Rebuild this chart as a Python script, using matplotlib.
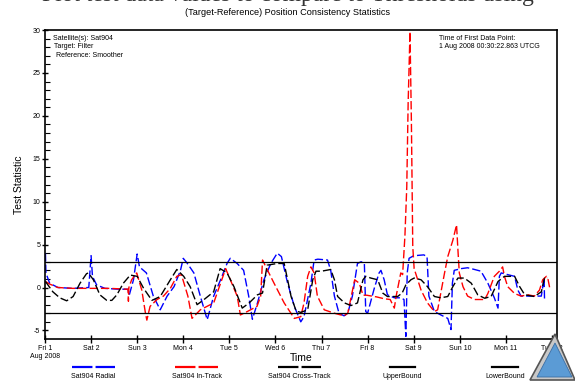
import matplotlib
matplotlib.use("Agg")
import matplotlib.pyplot as plt
from matplotlib.lines import Line2D
from matplotlib.patches import Polygon

plt.rcParams['font.family'] = ['Liberation Sans', 'DejaVu Sans']
plt.rcParams['axes.unicode_minus'] = False

# days since 1 Aug 2008 00:00 UTCG
radial_t = [0.01, 0.02, 0.1, 0.28, 0.6, 0.95, 1.0, 1.03, 1.12, 1.3, 1.6, 1.8, 1.83, 1.92,
            2.0, 2.05, 2.2, 2.35, 2.5, 2.65, 2.8, 2.94, 3.0, 3.09, 3.23, 3.37, 3.52, 3.66,
            3.81, 3.95, 4.02, 4.17, 4.31, 4.42, 4.5, 4.61, 4.75, 4.9, 5.04, 5.13, 5.26,
            5.41, 5.55, 5.62, 5.77, 5.84, 5.92, 6.13, 6.2, 6.28, 6.38, 6.49, 6.57, 6.67,
            6.78, 6.86, 6.93, 6.96, 7.0, 7.15, 7.25, 7.29, 7.36, 7.43, 7.58, 7.72, 7.79,
            7.83, 7.86, 7.9, 8.0, 8.22, 8.29, 8.33, 8.45, 8.59, 8.74, 8.81, 8.84, 8.88,
            9.03, 9.17, 9.32, 9.46, 9.61, 9.75, 9.83, 9.86, 9.9, 10.04, 10.19, 10.26,
            10.33, 10.62, 10.77, 10.83, 10.84]
radial_v = [4.0, 1.7, 0.5, 0.0, -0.1, 0.0, 3.7, 1.3, 0.3, -0.1, -0.2, -0.2, -0.85, 0.9,
            3.9, 2.4, 1.7, -1.0, -2.6, -1.0, 0.1, 2.0, 3.4, 2.8, 1.7, -1.0, -3.75, -1.0,
            0.9, 2.8, 3.4, 2.8, 2.0, -1.0, -3.7, -1.8, 0.9, 2.8, 4.0, 3.6, 0.6,
            -2.2, -4.0, -3.4, 0.5, 3.2, 3.3, 3.2, 2.0, -1.0, -3.0, -3.3, -3.0, -1.0,
            2.8, 3.0, 2.8, -2.8, -3.0, 0.0, 1.7, 2.0, 0.9, -0.85, -1.2, -1.2, -1.4,
            -5.7, 1.7, 3.4, 3.7, 3.8, 3.6, -1.0, -2.8, -3.2, -3.6, -4.9, 0.5, 2.0,
            2.2, 2.3, 2.1, 1.9, 0.5, -1.2, -2.4, 1.3, 1.7, 1.5, 1.3, -0.3,
            -1.0, -1.0, -1.0, 1.1, -1.6]

intrack_t = [0.01, 0.1, 0.28, 0.6, 1.0, 1.4, 1.8, 1.81, 1.82, 1.88, 1.99, 2.1, 2.18, 2.21,
             2.28, 2.43, 2.57, 2.72, 2.86, 2.96, 3.1, 3.19, 3.37, 3.66, 3.81, 3.92, 4.17,
             4.24, 4.39, 4.6, 4.68, 4.72, 4.83, 4.97, 5.19, 5.41, 5.55, 5.62, 5.7, 5.77,
             5.84, 5.91, 6.06, 6.28, 6.49, 6.57, 6.72, 6.82, 6.9, 6.98, 7.2, 7.35, 7.49,
             7.58, 7.62, 7.72, 7.76, 7.81, 7.85, 7.88, 7.92, 7.95, 7.97, 7.98, 8.01, 8.16,
             8.3, 8.45, 8.52, 8.67, 8.74, 8.85, 8.93, 8.96, 8.99, 9.07, 9.17, 9.32, 9.54,
             9.61, 9.75, 9.86, 9.93, 9.97, 10.04, 10.19, 10.33, 10.48, 10.62, 10.73, 10.8,
             10.88, 10.91, 10.95]
intrack_v = [0.7, 0.4, 0.0, -0.1, -0.1, -0.1, -0.2, -1.6, 0.0, 0.9, 1.7, -0.3, -3.0, -3.8,
             -2.2, -1.4, -1.0, -0.1, 1.3, 1.5, -1.0, -3.6, -2.6, -1.8, 0.5, 2.2, -1.0,
             -3.2, -2.8, -2.2, -1.0, 3.2, 2.0, 0.5, -1.8, -3.6, -3.4, -1.8, 1.3, 2.4,
             1.7, -1.0, -2.6, -3.0, -3.3, -3.0, 0.9, 0.5, -0.9, -0.9, -1.1, -1.3, -1.4,
             -2.4, -1.0, 1.7, 1.5, 6.0, 11.7, 21.5, 29.8, 19.5, 9.8, 4.8, 2.2, -0.3,
             -1.8, -2.8, -2.6, 1.7, 3.6, 5.5, 7.3, 4.4, 1.7, 0.1, -1.0, -1.4, -1.4,
             -0.7, 1.3, 1.9, 2.4, 1.3, 0.1, -0.7, -1.0, -0.85, -1.0, -0.3, 0.9,
             1.3, 1.1, 0.0]

cross_t = [0.01, 0.17, 0.32, 0.47, 0.61, 0.76, 0.9, 0.94, 1.05, 1.19, 1.34, 1.45, 1.56, 1.7,
           1.85, 2.0, 2.14, 2.32, 2.5, 2.72, 2.86, 3.01, 3.15, 3.3, 3.44, 3.66, 3.8, 3.95,
           4.1, 4.28, 4.43, 4.61, 4.72, 4.82, 5.04, 5.19, 5.34, 5.45, 5.55, 5.7, 5.81,
           5.88, 6.0, 6.2, 6.28, 6.35, 6.5, 6.64, 6.78, 6.9, 6.96, 7.07, 7.22, 7.33, 7.43,
           7.65, 7.75, 7.83, 7.94, 8.01, 8.16, 8.3, 8.45, 8.59, 8.74, 8.85, 8.96, 9.1,
           9.25, 9.39, 9.54, 9.68, 9.83, 9.97, 10.19, 10.3, 10.41, 10.62, 10.77, 10.84,
           10.91]
cross_v = [0.7, -0.5, -1.2, -1.55, -1.05, 0.5, 1.6, 1.7, 0.9, -0.85, -1.5, -1.5, -0.85, 0.5,
           1.45, 1.3, -0.1, -1.5, -1.05, 0.9, 2.1, 1.3, 0.1, -2.0, -1.45, -0.5, 2.2, 1.7,
           0.1, -2.4, -1.8, -0.85, -0.65, 2.6, 2.8, 2.8, -1.05, -2.75, -2.9, -2.6, 0.9,
           1.9, 1.9, 2.1, 0.9, -1.05, -1.8, -2.1, -1.8, 0.9, 1.3, 1.1, 0.9, -0.65, -1.05,
           -1.05, -0.65, 0.3, 0.9, 1.1, 0.9, 0.1, -1.05, -1.2, -1.05, 0.1, 1.1, 1.1,
           0.5, -0.85, -1.25, -1.05, 0.7, 1.3, 1.3, 0.1, -0.85, -1.05, -0.5, 1.1,
           1.1]

upper_bound = 3.0
lower_bound = -3.0

day_ticks = list(range(12))
day_labels = ["Fri 1\nAug 2008", "Sat 2", "Sun 3", "Mon 4", "Tue 5", "Wed 6", "Thu 7",
              "Fri 8", "Sat 9", "Sun 10", "Mon 11", "Tue 12"]

series_names = ["Sat904 Radial", "Sat904 In-Track", "Sat904 Cross-Track", "UpperBound", "LowerBound"]
series_colors = ["#0000ff", "#ff0000", "#000000", "#000000", "#000000"]

W, H = 575, 381
fig = plt.figure(figsize=(W / 100, H / 100), dpi=100)
ax = fig.add_axes([45 / W, 1 - 339 / H, (557 - 45) / W, (339 - 30) / H])

dash = (6, 2.2)
ax.plot(radial_t, radial_v, color=series_colors[0], lw=1.0, dashes=dash)
ax.plot(intrack_t, intrack_v, color=series_colors[1], lw=1.0, dashes=dash)
ax.plot(cross_t, cross_v, color=series_colors[2], lw=1.0, dashes=dash)
ax.axhline(upper_bound, color="black", lw=0.9)
ax.axhline(lower_bound, color="black", lw=0.9)

ax.set_xlim(0, 11.11)
ax.set_ylim(-6, 30)
ax.set_xticks(day_ticks)
ax.set_xticklabels(day_labels, fontsize=5)
ax.set_yticks(range(-5, 31, 5))
ax.set_yticks(range(-5, 31, 1), minor=True)
ax.tick_params(axis='y', labelsize=5, direction='inout', length=5, width=1, pad=1)
ax.tick_params(axis='y', which='minor', direction='in', length=3.5, width=0.8)
ax.tick_params(axis='x', direction='inout', length=6, width=1, pad=1.5)
for s in ax.spines.values():
    s.set_linewidth(1.2)

ax.set_xlabel("Time", fontsize=7.5)
ax.xaxis.set_label_coords(0.5, -0.045)
ax.set_ylabel("Test Statistic", fontsize=7.5, labelpad=6)

# annotations inside the plot
ax.text(0.015, 0.973, "Satellite(s): Sat904", transform=ax.transAxes, fontsize=5, va='center')
ax.text(0.018, 0.946, "Target: Filter", transform=ax.transAxes, fontsize=5, va='center')
ax.text(0.021, 0.918, "Reference: Smoother", transform=ax.transAxes, fontsize=5, va='center')
ax.text(0.769, 0.973, "Time of First Data Point:", transform=ax.transAxes, fontsize=5, va='center')
ax.text(0.769, 0.948, "1 Aug 2008 00:30:22.863 UTCG", transform=ax.transAxes, fontsize=5, va='center')

# titles (the large one is clipped by the top edge, as in the original)
fig.text(0.5, 1 - 1.5 / H, "Plot test data values to compare to Thresholds using",
         family="Liberation Serif", fontsize=17, ha='center', va='baseline', color="#333333")
fig.text(0.5, 1 - 12.5 / H, "(Target-Reference) Position Consistency Statistics",
         fontsize=6.6, ha='center', va='center')

# legend drawn below the axis: line sample above label
legend_x = [(72, 115), (175, 218), (278, 321), (390, 415), (492, 518)]
for i, name in enumerate(series_names):
    x0, x1 = legend_x[i]
    ln = Line2D([x0 / W, x1 / W], [1 - 367 / H] * 2, transform=fig.transFigure,
                color=series_colors[i], lw=1.6)
    if i < 3:
        ln.set_dashes((9.2, 1.4))
    fig.lines.append(ln)
    fig.text((x0 + x1) / 2 / W, 1 - 376 / H, name, fontsize=5, ha='center', va='center')

# logo in the lower right corner
fig.patches.append(Polygon([[555 / W, 1 - 334 / H], [530 / W, 1 - 380 / H], [575 / W, 1 - 380 / H]],
                           closed=True, transform=fig.transFigure, facecolor="#c8c8c8",
                           edgecolor="#555555", lw=1.2))
fig.patches.append(Polygon([[555 / W, 1 - 343 / H], [537 / W, 1 - 377 / H], [572 / W, 1 - 377 / H]],
                           closed=True, transform=fig.transFigure, facecolor="#5b9bd5",
                           edgecolor="#3a6ea5", lw=0.6))

fig.savefig("out.png", dpi=100)
